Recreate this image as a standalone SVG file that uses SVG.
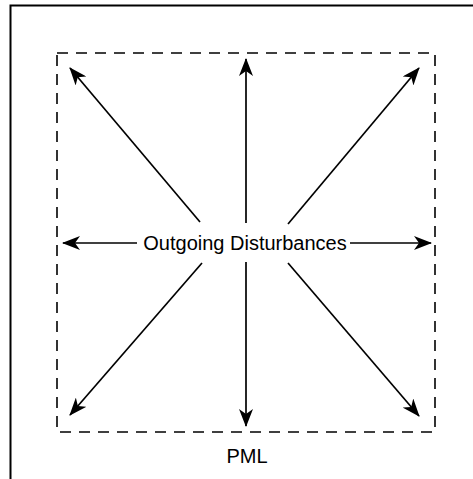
<svg xmlns="http://www.w3.org/2000/svg" width="473" height="479" viewBox="0 0 473 479">
<style>
.frame{fill:none;stroke:#000;stroke-width:2}
.pml{fill:none;stroke:#000;stroke-width:1.6;stroke-dasharray:11 8}
.arr{fill:none;stroke:#000;stroke-width:1.7;marker-end:url(#ah)}
.lbl{font-family:"Liberation Sans",Arial,sans-serif;font-size:20px;fill:#000}
</style>
<defs>
<marker id="ah" markerUnits="userSpaceOnUse" viewBox="0 0 18 14" refX="17" refY="7" markerWidth="18" markerHeight="14" orient="auto">
<path d="M0,0 L18,7 L0,14 L5,7 Z" fill="#000"/>
</marker>
</defs>
<rect width="473" height="479" fill="#fff"/>
<path class="frame" d="M10.5,479 V5.5 H473"/>
<g id="pml">
<rect class="pml" x="57" y="53" width="378" height="379"/>
<text class="lbl" x="247" y="463" text-anchor="middle">PML</text>
</g>
<g id="source">
<text class="lbl" x="245" y="250" text-anchor="middle">Outgoing Disturbances</text>
</g>
<g id="connectors">
<line class="arr" x1="246" y1="223" x2="246" y2="59"/>
<line class="arr" x1="246" y1="262" x2="246" y2="426"/>
<line class="arr" x1="137" y1="243" x2="63" y2="243"/>
<line class="arr" x1="350" y1="243" x2="431" y2="243"/>
<line class="arr" x1="200" y1="222" x2="70" y2="68"/>
<line class="arr" x1="288" y1="224" x2="419" y2="68"/>
<line class="arr" x1="202" y1="263" x2="70" y2="415"/>
<line class="arr" x1="288" y1="263" x2="419" y2="416"/>
</g>
</svg>
